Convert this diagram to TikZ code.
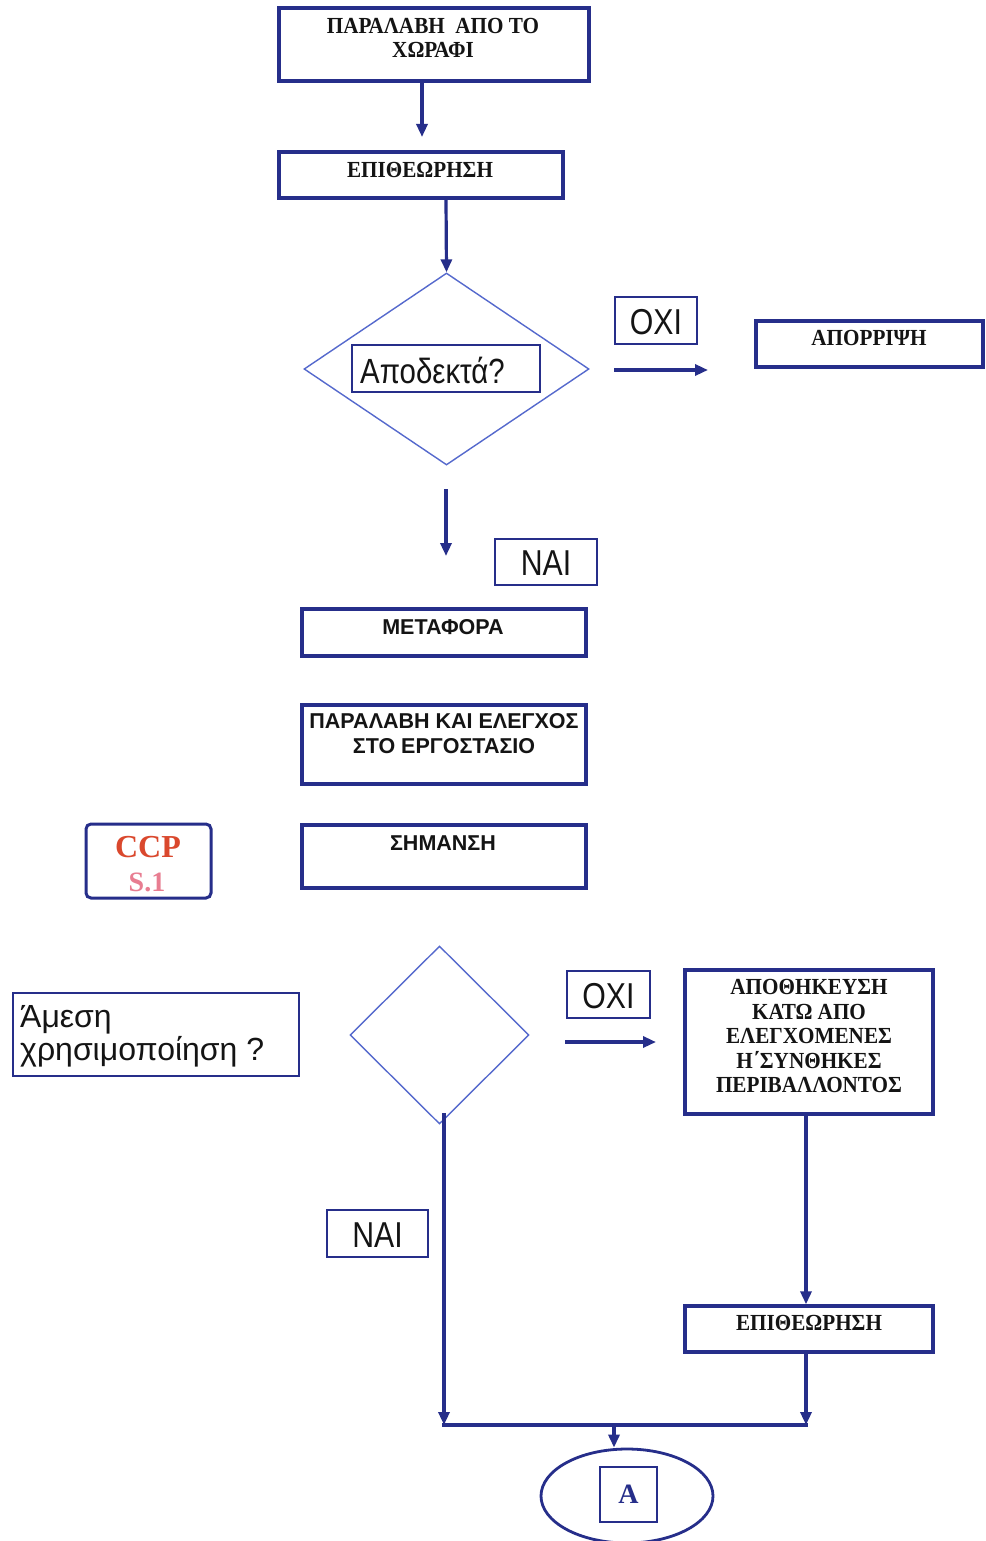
\documentclass[tikz,border=0pt]{standalone}
\usepackage{fontspec}
\setmainfont{Liberation Serif}
\setsansfont{Liberation Sans}
\newfontfamily\narrowsans[FakeStretch=0.84]{Liberation Sans}
\newfontfamily\narrowserif[FakeStretch=0.92]{Liberation Serif}
\usetikzlibrary{shapes.geometric,arrows.meta,calc}
\definecolor{navy}{RGB}{38,46,138}
\definecolor{diamblue}{RGB}{85,105,205}
\definecolor{ccpred}{RGB}{218,72,45}
\definecolor{ccppink}{RGB}{232,125,145}
\definecolor{ink}{RGB}{20,20,20}
\tikzset{
  frame/.style={draw=navy, line width=3.4pt, rectangle, inner sep=0pt},
  tag/.style={draw=navy, line width=1.8pt, rectangle, inner sep=0pt},
  decision/.style={draw=diamblue, line width=1.4pt, diamond, inner sep=0pt},
  flow/.style={draw=navy, line width=3.2pt, -{Triangle[length=13pt,width=11pt]}},
  link/.style={draw=navy, line width=3.2pt},
  serifcap/.style={font=\narrowserif\bfseries\fontsize{23}{24.5}\selectfont, text=ink, align=center, inner sep=0pt},
  sanscap/.style={font=\sffamily\bfseries\fontsize{21.5}{25}\selectfont, text=ink, align=center, inner sep=0pt},
  answer/.style={font=\narrowsans\fontsize{36}{36}\selectfont, text=ink, inner sep=0pt},
}
\begin{document}
\begin{tikzpicture}[x=1pt,y=-1pt]
\useasboundingbox[fill=white] (0,0) rectangle (985,1541);

% ---- upper part: reception and first inspection
\node[frame, minimum width=310pt, minimum height=73pt] (recv) at (434,44.5) {};
\node[serifcap] (recvtxt) at (433,38) {ΠΑΡΑΛΑΒΗ \ ΑΠΟ ΤΟ\\ΧΩΡΑΦΙ};

\node[frame, minimum width=284pt, minimum height=46pt] (insp) at (421,175) {};
\node[serifcap] (insptxt) at (420,170) {ΕΠΙΘΕΩΡΗΣΗ};

\coordinate (recvout) at (422,83);
\coordinate (inspin) at (422,137);
\draw[flow] (recvout) -- (inspin);

% ---- first decision
\node[decision, minimum width=285pt, minimum height=192pt] (acc) at (446.5,369) {};
\node[tag, minimum width=188pt, minimum height=47pt] (acctxt) at (446,368.5) {};
\node[answer, font=\narrowsans\fontsize{35}{36}\selectfont, anchor=base west] (accword) at (360,383) {Αποδεκτά?};

\coordinate (inspout) at (446,200);
\draw[flow] (inspout) -- (acc.north);

\node[tag, minimum width=82pt, minimum height=47pt] (no1) at (656,320.5) {};
\node[answer] (no1txt) at (656,322) {ΟΧΙ};
\coordinate (no1a) at (614,370);
\coordinate (no1b) at (708,370);
\draw[flow] (no1a) -- (no1b);

\node[frame, minimum width=227pt, minimum height=46pt] (rej) at (869.5,344) {};
\node[serifcap] (rejtxt) at (869,338) {ΑΠΟΡΡΙΨΗ};

\coordinate (yes1a) at (446,489);
\coordinate (yes1b) at (446,556);
\draw[flow] (yes1a) -- (yes1b);
\node[tag, minimum width=102pt, minimum height=46pt] (yes1) at (546,562) {};
\node[answer] (yes1txt) at (546,563) {ΝΑΙ};

% ---- transport, factory reception, labelling
\node[frame, minimum width=284pt, minimum height=47pt] (trans) at (444,632.5) {};
\node[sanscap] (transtxt) at (443,627) {ΜΕΤΑΦΟΡΑ};

\node[frame, minimum width=284pt, minimum height=79pt] (fact) at (444,744.5) {};
\node[sanscap] (facttxt) at (444,733.5) {ΠΑΡΑΛΑΒΗ ΚΑΙ ΕΛΕΓΧΟΣ\\ΣΤΟ ΕΡΓΟΣΤΑΣΙΟ};

\node[frame, minimum width=284pt, minimum height=63pt] (label) at (444,856.5) {};
\node[sanscap] (labeltxt) at (443,843) {ΣΗΜΑΝΣΗ};

\node[draw=navy, line width=3pt, rounded corners=5pt, minimum width=125pt, minimum height=74pt, inner sep=0pt] (ccp) at (148.5,861) {};
\node[font=\bfseries\fontsize{32}{32}\selectfont, text=ccpred, inner sep=0pt] (ccptxt) at (148,847) {CCP};
\node[font=\bfseries\fontsize{28}{28}\selectfont, text=ccppink, inner sep=0pt] (ccpnum) at (147,882) {S.1};

% ---- second decision
\node[tag, minimum width=286pt, minimum height=83pt] (imm) at (156,1034.5) {};
\node[font=\sffamily\fontsize{32}{33}\selectfont, text=ink, align=left, inner sep=0pt, anchor=base west] (immtxt) at (20,1060) {Άμεση\\χρησιμοποίηση ?};

\node[decision, minimum width=179pt, minimum height=178pt] (use) at (439.5,1035) {};

\node[tag, minimum width=83pt, minimum height=47pt] (no2) at (608.5,994.5) {};
\node[answer] (no2txt) at (608.5,996) {ΟΧΙ};
\coordinate (no2a) at (565,1042);
\coordinate (no2b) at (656,1042);
\draw[flow] (no2a) -- (no2b);

\node[frame, minimum width=248pt, minimum height=144pt] (store) at (809,1042) {};
\node[serifcap] (storetxt) at (809,1036) {ΑΠΟΘΗΚΕΥΣΗ\\ΚΑΤΩ ΑΠΟ\\ΕΛΕΓΧΟΜΕΝΕΣ\\Η΄ΣΥΝΘΗΚΕΣ\\ΠΕΡΙΒΑΛΛΟΝΤΟΣ};

\node[frame, minimum width=248pt, minimum height=46pt] (insp2) at (809,1329) {};
\node[serifcap] (insp2txt) at (809,1323) {ΕΠΙΘΕΩΡΗΣΗ};

\node[tag, minimum width=101pt, minimum height=47pt] (yes2) at (377.5,1233.5) {};
\node[answer] (yes2txt) at (377.5,1235) {ΝΑΙ};

% ---- merge and connector to A
\coordinate (useout) at (444,1113);
\coordinate (joinL) at (444,1425);
\coordinate (joinR) at (806,1425);
\coordinate (joinM) at (614,1425);
\coordinate (storeout) at (806,1114);
\coordinate (insp2out) at (806,1352);

\draw[flow] (useout) -- (joinL);
\draw[flow] (storeout) -- (insp2.north -| storeout);
\draw[flow] (insp2out) -- (joinR);
\draw[link, line cap=rect] (joinL) -- (joinR);

\node[draw=navy, line width=2.8pt, ellipse, minimum width=172pt, minimum height=94pt, inner sep=0pt] (conn) at (627,1496) {};
\node[draw=navy, line width=2.6pt, minimum width=57pt, minimum height=55pt, inner sep=0pt, font=\bfseries\fontsize{28}{28}\selectfont, text=navy] (conntxt) at (628.5,1494.5) {A};
\draw[flow] (joinM) -- (conn.north -| joinM);
\end{tikzpicture}
\end{document}
